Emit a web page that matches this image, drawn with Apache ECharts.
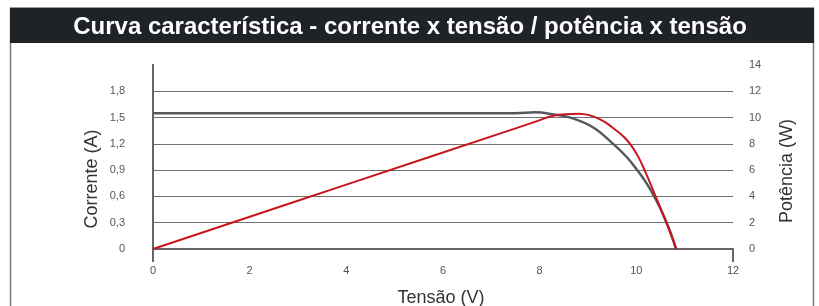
<!DOCTYPE html>
<html>
<head>
<meta charset="utf-8">
<script src="https://cdn.jsdelivr.net/npm/echarts@6/dist/echarts.min.js"></script>
<style>
  html, body { margin: 0; padding: 0; background: #fff; }
  #chart { width: 819px; height: 306px; }
</style>
</head>
<body>
<div id="chart"></div>
<script>
// curva corrente x tensão
const tensaoCorrente = [0, 4, 7.5, 7.9, 8.3, 8.63, 9.1, 9.52, 9.8, 10.02, 10.2, 10.4, 10.55, 10.7, 10.82]
const corrente = [1.55, 1.55, 1.55, 1.56, 1.535, 1.5, 1.39, 1.2, 1.05, 0.9, 0.76, 0.57, 0.4, 0.2, 0]

// curva potência x tensão
const tensaoPotencia = [0, 4, 7.5, 7.9, 8.3, 8.8, 9.25, 9.6, 9.75, 9.9, 10.05, 10.2, 10.4, 10.62, 10.83]
const potencia = [0, 4.9, 9.18, 9.67, 10.15, 10.3, 9.86, 8.98, 8.5, 7.85, 6.95, 5.75, 4, 2, 0]

const titulo = 'Curva característica - corrente x tensão / potência x tensão'

const zip = (xs, ys) => xs.map((x, i) => [x, ys[i]])
const fmt = v => String(+v.toFixed(1)).replace('.', ',')

const chart = echarts.init(document.getElementById('chart'))

const font = 'Liberation Sans, Arial, sans-serif'

const option = {
  animation: false,
  grid: { left: 153, right: 86, top: 65, bottom: 57 },
  graphic: [
    {
      type: 'rect',
      shape: { x: 10.5, y: 8, width: 803, height: 320 },
      style: { fill: 'none', stroke: '#7a7a7a', lineWidth: 1.5 }
    },
    {
      type: 'rect',
      shape: { x: 10, y: 8, width: 804, height: 35 },
      style: { fill: '#1f2227' }
    },
    {
      type: 'text',
      x: 410, y: 27,
      style: {
        text: titulo, fill: '#fff', font: 'bold 24px ' + font,
        align: 'center', verticalAlign: 'middle'
      }
    },
    {
      type: 'text',
      x: 92, y: 179, rotation: Math.PI / 2,
      style: {
        text: 'Corrente (A)', fill: '#333', font: '18px ' + font,
        align: 'center', verticalAlign: 'middle'
      }
    },
    {
      type: 'text',
      x: 787, y: 171, rotation: Math.PI / 2,
      style: {
        text: 'Potência (W)', fill: '#333', font: '18px ' + font,
        align: 'center', verticalAlign: 'middle'
      }
    },
    {
      type: 'text',
      x: 441, y: 298,
      style: {
        text: 'Tensão (V)', fill: '#333', font: '18px ' + font,
        align: 'center', verticalAlign: 'middle'
      }
    }
  ],
  xAxis: [
    {
      type: 'value',
      min: 0, max: 12, interval: 2,
      axisLine: { lineStyle: { color: '#666', width: 2 } },
      axisTick: { show: false },
      axisLabel: { color: '#555', fontSize: 11, fontFamily: font, margin: 16 },
      splitLine: { show: false }
    },
    {
      // só os traços nas pontas do eixo
      type: 'value',
      position: 'bottom',
      min: 0, max: 12, interval: 12,
      axisLine: { show: false },
      axisTick: { show: true, length: 13, lineStyle: { color: '#666', width: 2 } },
      axisLabel: { show: false },
      splitLine: { show: false }
    }
  ],
  yAxis: [
    {
      type: 'value',
      min: 0, max: 2.1, interval: 0.3,
      axisLine: { show: true, lineStyle: { color: '#666', width: 2 } },
      axisTick: { show: false },
      axisLabel: {
        color: '#555', fontSize: 11, fontFamily: font, margin: 28,
        showMaxLabel: false, formatter: fmt
      },
      splitLine: { show: true, showMaxLine: false, lineStyle: { color: '#707070', width: 1 } }
    },
    {
      type: 'value',
      min: 0, max: 14, interval: 2,
      axisLine: { show: true, lineStyle: { color: '#666', width: 2 } },
      axisTick: { show: false },
      axisLabel: { color: '#555', fontSize: 11, fontFamily: font, margin: 16, align: 'left' },
      splitLine: { show: false }
    }
  ],
  series: [
    {
      name: 'Corrente',
      type: 'line',
      yAxisIndex: 0,
      smooth: 0.4,
      symbol: 'none',
      lineStyle: { color: '#55595d', width: 2.5 },
      data: zip(tensaoCorrente, corrente)
    },
    {
      name: 'Potência',
      type: 'line',
      yAxisIndex: 1,
      smooth: 0.4,
      symbol: 'none',
      lineStyle: { color: '#c8141e', width: 2 },
      data: zip(tensaoPotencia, potencia),
      z: 3
    }
  ]
}

chart.setOption(option)
</script>
</body>
</html>
